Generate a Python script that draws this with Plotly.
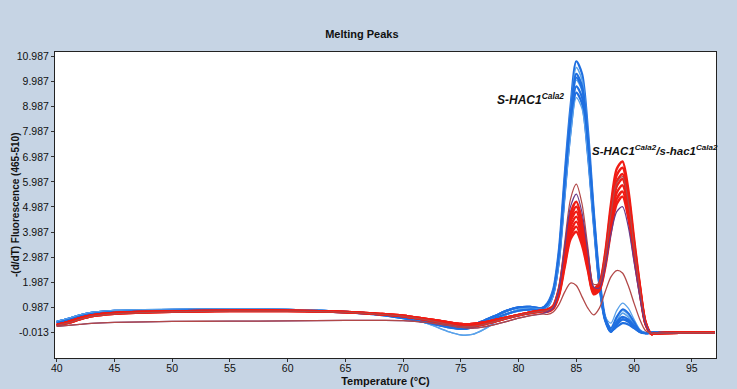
import plotly.graph_objects as go

# ---------------- data ----------------
T_BASE = [40, 41, 42, 43, 45, 50, 55, 60, 65, 68, 70, 72, 74, 75, 76, 77, 78, 79, 80, 81, 82]
T_PEAK = [82.5, 83, 83.5, 84, 84.5, 85, 85.5, 86, 86.5, 87, 87.5, 88, 88.5, 89, 89.5, 90, 90.5, 91, 91.5, 92, 94, 97]

blue_base_a = [0.40, 0.52, 0.66, 0.76, 0.84, 0.88, 0.90, 0.88, 0.80, 0.70, 0.60, 0.45, 0.28, 0.22, 0.28, 0.45, 0.65, 0.85, 0.98, 1.00, 0.95]
blue_base_b = [0.36, 0.48, 0.62, 0.72, 0.80, 0.86, 0.88, 0.86, 0.78, 0.68, 0.55, 0.38, 0.18, 0.12, 0.18, 0.35, 0.55, 0.72, 0.85, 0.90, 0.90]
blue_base_c = [0.42, 0.54, 0.68, 0.78, 0.86, 0.90, 0.92, 0.90, 0.82, 0.72, 0.58, 0.35, 0.00, -0.12, -0.10, 0.10, 0.40, 0.70, 0.90, 0.95, 0.92]
red_base_a = [0.28, 0.40, 0.55, 0.66, 0.76, 0.82, 0.85, 0.85, 0.80, 0.72, 0.65, 0.52, 0.38, 0.32, 0.32, 0.38, 0.48, 0.58, 0.68, 0.78, 0.85]
red_base_b = [0.25, 0.36, 0.50, 0.62, 0.72, 0.80, 0.83, 0.83, 0.78, 0.70, 0.62, 0.48, 0.30, 0.22, 0.22, 0.30, 0.42, 0.55, 0.66, 0.75, 0.82]
low_base = [0.22, 0.26, 0.30, 0.34, 0.38, 0.42, 0.43, 0.44, 0.46, 0.46, 0.45, 0.38, 0.25, 0.18, 0.15, 0.20, 0.30, 0.42, 0.55, 0.65, 0.72]

blue_peak_1 = [1.15, 1.70, 3.30, 6.30, 9.00, 10.80, 10.30, 8.10, 4.90, 2.20, 0.60, 0.10, 0.30, 0.50, 0.40, 0.20, 0.05, -0.05, -0.03, -0.02, -0.02, -0.02]
blue_peak_2 = [1.10, 1.65, 3.20, 6.10, 8.80, 10.55, 10.05, 7.90, 4.80, 2.10, 0.55, 0.05, 0.45, 0.75, 0.60, 0.30, 0.05, -0.05, -0.03, -0.02, -0.02, -0.02]
blue_peak_3 = [1.10, 1.60, 3.10, 6.00, 8.60, 10.30, 9.80, 7.70, 4.70, 2.00, 0.50, 0.00, 0.30, 0.50, 0.45, 0.20, 0.00, -0.05, -0.03, -0.02, -0.02, -0.02]
blue_peak_4 = [1.05, 1.55, 3.00, 5.80, 8.40, 10.05, 9.60, 7.50, 4.60, 1.95, 0.50, 0.10, 0.55, 0.85, 0.70, 0.35, 0.05, -0.05, -0.03, -0.02, -0.02, -0.02]
blue_peak_5 = [1.05, 1.50, 2.90, 5.65, 8.20, 9.80, 9.35, 7.30, 4.50, 1.90, 0.50, 0.05, 0.20, 0.35, 0.30, 0.15, 0.00, -0.05, -0.03, -0.02, -0.02, -0.02]
blue_peak_6 = [1.00, 1.50, 2.85, 5.50, 8.00, 9.55, 9.10, 7.10, 4.35, 1.85, 0.45, 0.00, 0.40, 0.60, 0.50, 0.25, 0.02, -0.05, -0.03, -0.02, -0.02, -0.02]
blue_peak_7 = [1.00, 1.45, 2.80, 5.40, 7.80, 9.35, 8.90, 7.00, 4.30, 1.90, 0.60, 0.35, 0.85, 1.15, 0.95, 0.50, 0.10, -0.05, -0.03, -0.02, -0.02, -0.02]
blue_peak_8 = [1.10, 1.60, 3.10, 5.90, 8.50, 10.15, 9.70, 7.60, 4.65, 2.00, 0.55, 0.15, 0.60, 0.90, 0.75, 0.40, 0.05, -0.05, -0.03, -0.02, -0.02, -0.02]

red_peak_1 = [0.90, 1.05, 1.75, 3.25, 4.75, 5.20, 4.45, 3.05, 1.75, 1.95, 3.15, 5.10, 6.50, 6.80, 5.70, 3.75, 1.90, 0.40, -0.08, -0.05, -0.03, -0.03]
red_peak_2 = [0.88, 1.02, 1.70, 3.10, 4.55, 5.00, 4.30, 2.95, 1.72, 1.90, 3.05, 4.90, 6.25, 6.55, 5.50, 3.60, 1.85, 0.38, -0.08, -0.05, -0.03, -0.03]
red_peak_3 = [0.86, 1.00, 1.65, 3.00, 4.40, 4.80, 4.10, 2.85, 1.68, 1.85, 2.95, 4.70, 6.00, 6.30, 5.30, 3.45, 1.80, 0.36, -0.08, -0.05, -0.03, -0.03]
red_peak_4 = [0.85, 0.98, 1.60, 2.90, 4.20, 4.60, 3.95, 2.75, 1.64, 1.80, 2.85, 4.55, 5.80, 6.10, 5.10, 3.35, 1.75, 0.35, -0.08, -0.05, -0.03, -0.03]
red_peak_5 = [0.84, 0.96, 1.55, 2.80, 4.00, 4.40, 3.80, 2.65, 1.60, 1.75, 2.75, 4.35, 5.55, 5.85, 4.90, 3.20, 1.70, 0.33, -0.08, -0.05, -0.03, -0.03]
red_peak_6 = [0.82, 0.95, 1.50, 2.70, 3.85, 4.20, 3.60, 2.55, 1.55, 1.70, 2.65, 4.15, 5.30, 5.60, 4.70, 3.10, 1.60, 0.30, -0.08, -0.05, -0.03, -0.03]
red_peak_7 = [0.80, 0.93, 1.45, 2.60, 3.70, 4.00, 3.45, 2.45, 1.50, 1.65, 2.55, 4.00, 5.10, 5.40, 4.55, 3.00, 1.55, 0.30, -0.08, -0.05, -0.03, -0.03]

brown_peak_1 = [0.85, 1.00, 1.80, 3.60, 5.30, 5.90, 5.10, 3.40, 1.90, 1.95, 3.00, 4.70, 5.95, 6.20, 5.20, 3.40, 1.70, 0.35, -0.05, -0.05, -0.03, -0.03]
brown_peak_2 = [0.80, 0.95, 1.70, 3.40, 5.00, 5.50, 4.75, 3.20, 1.80, 1.75, 2.60, 3.90, 4.80, 5.00, 4.20, 2.80, 1.40, 0.30, -0.05, -0.05, -0.03, -0.03]
brown_peak_3 = [0.70, 0.80, 1.10, 1.60, 1.95, 1.85, 1.40, 0.95, 0.68, 0.95, 1.60, 2.20, 2.45, 2.35, 1.85, 1.15, 0.50, 0.05, -0.05, -0.05, -0.03, -0.03]

Y_TICKS = [-0.013, 0.987, 1.987, 2.987, 3.987, 4.987, 5.987, 6.987, 7.987, 8.987, 9.987, 10.987]
Y_TICK_TEXT = ["-0.013", "0.987", "1.987", "2.987", "3.987", "4.987", "5.987", "6.987", "7.987", "8.987", "9.987", "10.987"]
X_TICKS = [40, 45, 50, 55, 60, 65, 70, 75, 80, 85, 90, 95]

BLUE = "#1f6fe0"
LBLUE = "#5aa2ea"
RED = "#f01c14"
BROWN = "#b24848"
PURPLE = "#6a3a8a"

curves = [
    (blue_base_a, blue_peak_1, BLUE, 2.2),
    (blue_base_b, blue_peak_2, LBLUE, 1.6),
    (blue_base_a, blue_peak_3, BLUE, 2.2),
    (blue_base_c, blue_peak_4, LBLUE, 1.4),
    (blue_base_b, blue_peak_5, BLUE, 2.2),
    (blue_base_a, blue_peak_6, BLUE, 2.2),
    (blue_base_c, blue_peak_7, LBLUE, 1.3),
    (blue_base_b, blue_peak_8, BLUE, 2.0),
    (red_base_a, red_peak_1, RED, 2.4),
    (red_base_b, red_peak_2, RED, 2.4),
    (red_base_a, red_peak_3, RED, 2.4),
    (red_base_b, red_peak_4, RED, 2.4),
    (red_base_a, red_peak_5, RED, 2.4),
    (red_base_b, red_peak_6, RED, 2.4),
    (red_base_a, red_peak_7, RED, 2.4),
    (red_base_b, brown_peak_1, BROWN, 1.2),
    (low_base, brown_peak_2, PURPLE, 1.2),
    (low_base, brown_peak_3, BROWN, 1.3),
]

fig = go.Figure()
for base, peak, color, width in curves:
    fig.add_trace(go.Scatter(
        x=T_BASE + T_PEAK, y=base + peak, mode="lines",
        line=dict(color=color, width=width, shape="spline", smoothing=0.8),
        hoverinfo="skip", showlegend=False))

sans = "Liberation Sans, Arial, sans-serif"

fig.update_layout(
    width=737, height=389,
    margin=dict(l=55, r=21, t=52, b=31),
    paper_bgcolor="#c6d4e4",
    plot_bgcolor="white",
    showlegend=False,
    title=dict(text="<b>Melting Peaks</b>", x=0.491, xref="container", xanchor="center",
               y=1 - 34 / 389, yref="container", yanchor="middle",
               font=dict(family=sans, size=11, color="#111")),
    xaxis=dict(range=[39.85, 97.1], tickvals=X_TICKS, ticks="outside", ticklen=3,
               tickcolor="#333", showgrid=False, zeroline=False, showline=True,
               linecolor="#222", linewidth=1, mirror=True, automargin=False,
               ticklabelstandoff=-3,
               tickfont=dict(family=sans, size=10.5, color="#111"),
               title=dict(text="<b>Temperature (°C)</b>", standoff=4,
                          font=dict(family=sans, size=11, color="#111"))),
    yaxis=dict(range=[-1.04, 11.17], tickvals=Y_TICKS, ticktext=Y_TICK_TEXT,
               ticks="outside", ticklen=3, tickcolor="#333", showgrid=False,
               zeroline=False, showline=True, linecolor="#222", linewidth=1, mirror=True,
               automargin=False,
               tickfont=dict(family=sans, size=10.5, color="#111")),
    annotations=[
        dict(x=-0.0605, y=0.5, xref="paper", yref="paper", xanchor="center", yanchor="middle",
             showarrow=False, textangle=-90,
             text="<b>-(d/dT) Fluorescence (465-510)</b>",
             font=dict(family=sans, size=10, color="#111")),
        dict(x=78.0, y=9.3, xref="x", yref="y", xanchor="left", yanchor="middle",
             showarrow=False,
             text="<b><i>S-HAC1<sup>Cala2</sup></i></b>",
             font=dict(family=sans, size=12, color="#111")),
        dict(x=86.2, y=7.25, xref="x", yref="y", xanchor="left", yanchor="middle",
             showarrow=False,
             text="<b><i>S-HAC1<sup>Cala2</sup>/s-hac1<sup>Cala2</sup></i></b>",
             font=dict(family=sans, size=11.5, color="#111")),
    ],
)

fig.write_html("out.html", config={"displayModeBar": False},
               post_script="document.body.style.margin='0';")
